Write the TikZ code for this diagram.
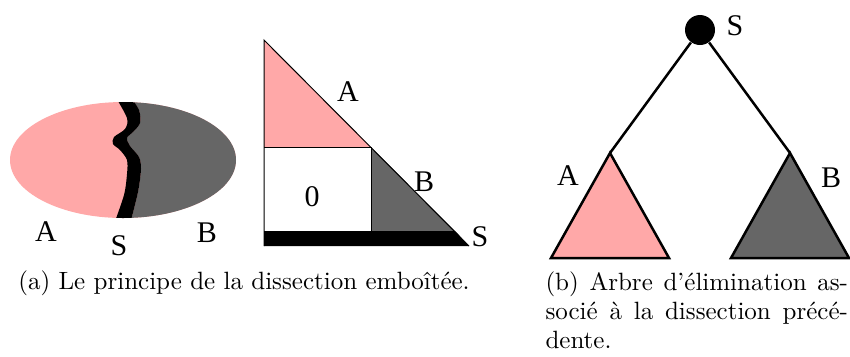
\documentclass[tikz,border=0pt]{standalone}
\usepackage{fontspec}
\newfontfamily\labelfont{Liberation Serif}
\definecolor{partA}{RGB}{255,168,168}
\definecolor{partB}{RGB}{102,102,102}
\tikzset{lbl/.style={font=\labelfont\fontsize{12}{14}\selectfont,inner sep=0pt},
 edge/.style={line width=1pt},
 caption/.style={inner sep=0pt,font=\fontsize{10}{12}\selectfont}}

\begin{document}
\begin{tikzpicture}[x=0.4pt,y=-0.4pt]
\useasboundingbox (0,0) rectangle (850,356);
% (a) domain cut by the separator
\begin{scope}
\clip (123,160) ellipse [x radius=113,y radius=58];
\fill[partA] (0,90) rectangle (250,230);
\fill[partB] plot[smooth] coordinates {(130,96) (139,110) (140,123) (133,132) (127,138) (130,146) (139,157) (141,169) (138,192) (130,224)}
 -- (250,224) -- (250,96) -- cycle;
\fill plot[smooth] coordinates {(115,96) (127,118) (125,129) (114,137) (113,144) (120,150) (127,160) (127,174) (124,195) (114,224)}
 -- plot[smooth] coordinates {(130,224) (138,192) (141,169) (139,157) (130,146) (127,138) (133,132) (140,123) (139,110) (130,96)} -- cycle;
\end{scope}
\node[lbl] (ellA) at (46,232) {A};
\node[lbl] (ellS) at (119,246) {S};
\node[lbl] (ellB) at (207,233) {B};
% (a) matrix view
\fill[partA] (264,40) -- (371,147) -- (264,147) -- cycle;
\fill[partB] (371,147) -- (455,231) -- (371,231) -- cycle;
\fill (264,231) -- (455,231) -- (469,246) -- (264,246) -- cycle;
\draw (264,246) -- (264,40) -- (469,246);
\draw (264,147) -- (371,147) -- (371,231);
\node[lbl] (matA) at (348,92) {A};
\node[lbl] (matB) at (424,182) {B};
\node[lbl] (matS) at (480,237) {S};
\node[lbl] (mat0) at (312,197) {0};
% (b) elimination tree
\node[circle,fill,inner sep=0pt,minimum size=12pt] (root) at (700,30) {};
\node[lbl] (rootS) at (735,26) {S};
\coordinate (apexA) at (610,153);
\coordinate (apexB) at (790,153);
\draw[edge] (root) -- (apexA);
\draw[edge] (root) -- (apexB);
\filldraw[edge,fill=partA] (apexA) -- ++(-59,105) -- ++(118,0) -- cycle;
\filldraw[edge,fill=partB] (apexB) -- ++(-59,105) -- ++(118,0) -- cycle;
\node[lbl] (treeA) at (568,176) {A};
\node[lbl] (treeB) at (831,178) {B};
% captions
\node[caption,anchor=base] (capA) at (244,289) {(a) Le principe de la dissection emboîtée.};
\node[caption,anchor=north west,text width=121pt,align=justify] (capB) at (545,271)
 {\baselineskip=11.6pt (b) Arbre d'élimination as-\linebreak socié à la dissection précé-\linebreak dente.\par};
\end{tikzpicture}
\end{document}
